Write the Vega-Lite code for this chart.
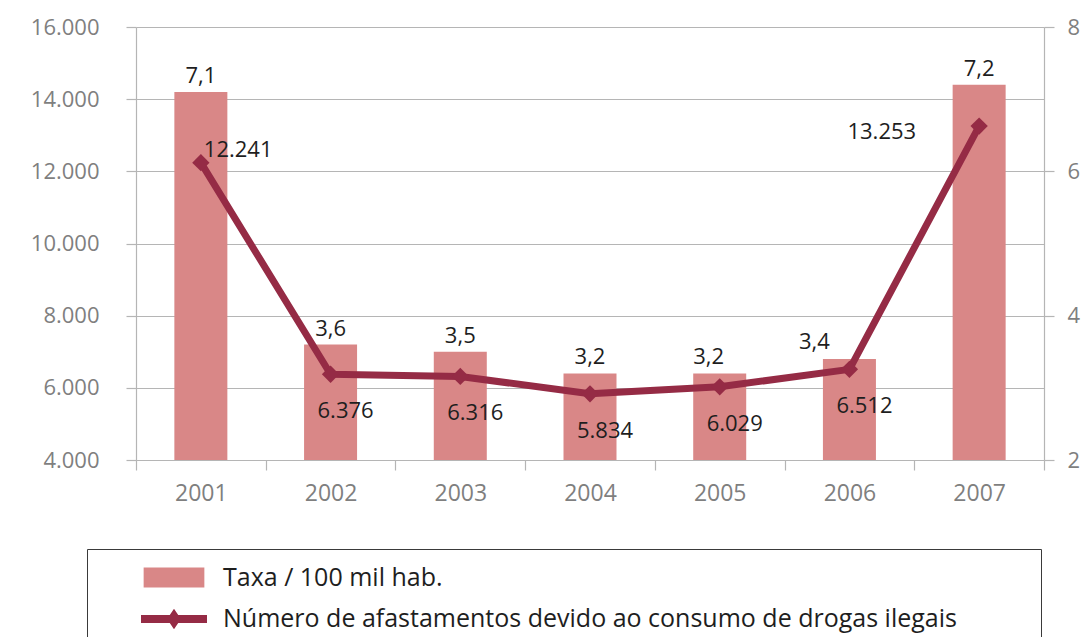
{
  "$schema": "https://vega.github.io/schema/vega-lite/v6.json",
  "width": 908,
  "height": 433,
  "autosize": {"type": "none"},
  "padding": {"left": 136, "top": 27, "right": 40, "bottom": 177},
  "background": "white",
  "config": {
    "locale": {"number": {"decimal": ",", "thousands": ".", "grouping": [3], "currency": ["", ""]}},
    "view": {"stroke": null},
    "font": "Open Sans",
    "axis": {"labelFont": "Open Sans", "labelFontSize": 22, "labelColor": "#7f7f7f", "domainColor": "#b5b5b5", "tickColor": "#b5b5b5", "gridColor": "#b5b5b5", "domainWidth": 1.2, "tickWidth": 1.2, "gridWidth": 1.2, "title": null}
  },
  "data": {"values": [
    {"ano": "2001", "taxa": 7.1, "afast": 12241},
    {"ano": "2002", "taxa": 3.6, "afast": 6376},
    {"ano": "2003", "taxa": 3.5, "afast": 6316},
    {"ano": "2004", "taxa": 3.2, "afast": 5834},
    {"ano": "2005", "taxa": 3.2, "afast": 6029},
    {"ano": "2006", "taxa": 3.4, "afast": 6512},
    {"ano": "2007", "taxa": 7.2, "afast": 13253}
  ]},
  "encoding": {
    "x": {"field": "ano", "type": "nominal", "scale": {"paddingInner": 0, "paddingOuter": 0},
      "axis": {"orient": "bottom", "labelAngle": 0, "tickBand": "extent", "tickSize": 10, "labelPadding": 12, "grid": false, "labelFontSize": 23}}
  },
  "layer": [
    {
      "encoding": {
        "y": {"field": "taxa", "type": "quantitative", "scale": {"domain": [2, 8], "zero": false, "nice": false},
          "axis": {"orient": "right", "values": [2, 4, 6, 8], "format": "d", "tickSize": 10, "labelPadding": 13, "grid": false}}
      },
      "layer": [
        {
          "mark": {"type": "bar", "width": 53},
          "encoding": {
            "y2": {"datum": 2},
            "color": {"datum": "Taxa / 100 mil hab.", "type": "nominal",
              "scale": {"domain": ["Taxa / 100 mil hab.", "Número de afastamentos devido ao consumo de drogas ilegais"], "range": ["#d98787", "#952b45"]},
              "legend": {
                "title": " ", "titleOrient": "right", "titleFontSize": 1, "titlePadding": 70, "titleColor": "white",
                "orient": "none", "legendX": -49, "legendY": 522, "direction": "vertical",
                "strokeColor": "#3a3a3a", "fillColor": "white", "padding": 14,
                "symbolOffset": 40, "symbolSize": 4356, "symbolStrokeWidth": 0, "clipHeight": 29, "rowPadding": 12.5,
                "labelFont": "Open Sans", "labelFontSize": 25, "labelColor": "#1e1e1e", "labelOffset": 16, "labelLimit": 1500,
                "encode": {"symbols": {"update": {
                  "shape": {"signal": "datum.value == 'Taxa / 100 mil hab.' ? 'M-0.92,-0.3H0.92V0.3H-0.92Z' : 'M-1,-0.12H1V0.12H-1Z M0,-0.31L0.21,0L0,0.31L-0.21,0Z'"},
                  "fill": {"signal": "datum.value == 'Taxa / 100 mil hab.' ? '#d98787' : '#952b45'"},
                  "stroke": {"value": "transparent"},
                  "opacity": {"value": 1},
                  "fillOpacity": {"value": 1}
                }}}
              }
            }
          }
        },
        {
          "transform": [{"filter": "datum.ano != '2005' && datum.ano != '2006'"}],
          "mark": {"type": "text", "baseline": "alphabetic", "dy": -9, "fontSize": 22, "color": "#1e1e1e", "font": "Open Sans"},
          "encoding": {"text": {"field": "taxa", "type": "quantitative", "format": ".1f"}}
        },
        {
          "transform": [{"filter": "datum.ano == '2005'"}],
          "mark": {"type": "text", "baseline": "alphabetic", "dx": -11, "dy": -9, "fontSize": 22, "color": "#1e1e1e", "font": "Open Sans"},
          "encoding": {"text": {"field": "taxa", "type": "quantitative", "format": ".1f"}}
        },
        {
          "transform": [{"filter": "datum.ano == '2006'"}],
          "mark": {"type": "text", "baseline": "alphabetic", "dx": -35, "dy": -10, "fontSize": 22, "color": "#1e1e1e", "font": "Open Sans"},
          "encoding": {"text": {"field": "taxa", "type": "quantitative", "format": ".1f"}}
        }
      ]
    },
    {
      "encoding": {
        "y": {"field": "afast", "type": "quantitative", "scale": {"domain": [4000, 16000], "zero": false, "nice": false},
          "axis": {"orient": "left", "values": [4000, 6000, 8000, 10000, 12000, 14000, 16000], "format": ",d", "tickSize": 10, "labelPadding": 27, "grid": true}}
      },
      "layer": [
        {
          "mark": {"type": "line", "strokeWidth": 7, "strokeJoin": "round"},
          "encoding": {"color": {"datum": "Número de afastamentos devido ao consumo de drogas ilegais", "type": "nominal"}}
        },
        {
          "mark": {"type": "point", "shape": "diamond", "filled": true, "size": 300, "opacity": 1},
          "encoding": {"color": {"datum": "Número de afastamentos devido ao consumo de drogas ilegais", "type": "nominal"}}
        },
        {
          "transform": [{"filter": "datum.ano == '2001'"}],
          "mark": {"type": "text", "align": "left", "baseline": "middle", "dx": 3, "dy": -13, "fontSize": 22, "color": "#1e1e1e", "font": "Open Sans"},
          "encoding": {"text": {"field": "afast", "type": "quantitative", "format": ",d"}}
        },
        {
          "transform": [{"filter": "datum.ano != '2001' && datum.ano != '2007'"}],
          "mark": {"type": "text", "align": "center", "baseline": "middle", "dx": 15, "dy": 37, "fontSize": 22, "color": "#1e1e1e", "font": "Open Sans"},
          "encoding": {"text": {"field": "afast", "type": "quantitative", "format": ",d"}}
        },
        {
          "transform": [{"filter": "datum.ano == '2007'"}],
          "mark": {"type": "text", "align": "right", "baseline": "middle", "dx": -63, "dy": 6, "fontSize": 22, "color": "#1e1e1e", "font": "Open Sans"},
          "encoding": {"text": {"field": "afast", "type": "quantitative", "format": ",d"}}
        }
      ]
    }
  ],
  "resolve": {"scale": {"y": "independent"}}
}
